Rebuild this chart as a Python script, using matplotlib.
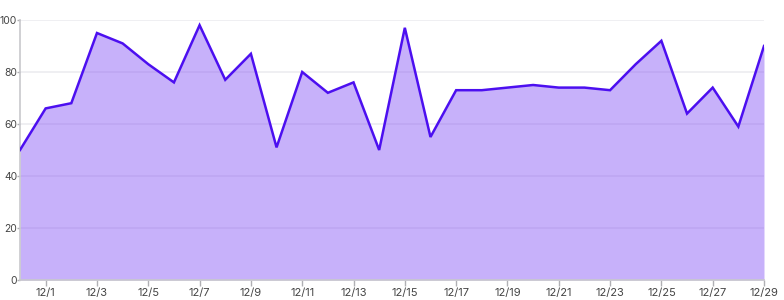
import matplotlib.pyplot as plt

plt.rcParams['font.family'] = ['Inter', 'DejaVu Sans']

days = list(range(0, 30))  # 0 = 11/30, 1 = 12/1 ... 29 = 12/29
values = [50, 66, 68, 95, 91, 83, 76, 98, 77, 87,
          51, 80, 72, 76, 50, 97, 55, 73, 73, 74,
          75, 74, 74, 73, 83, 92, 64, 74, 59, 90]
tick_days = list(range(1, 30, 2))
tick_labels = ["12/{}".format(d) for d in tick_days]
y_ticks = [0, 20, 40, 60, 80, 100]

fig = plt.figure(figsize=(7.84, 3.0), dpi=100)
ax = fig.add_axes([20 / 784, 20 / 300, 744 / 784, 260 / 300])

for y in y_ticks[1:]:
    ax.axhline(y, color='#ececf0', lw=1.2, zorder=0)

ax.fill_between(days, values, 0, color='#8b5cf6', alpha=0.48, lw=0, zorder=1)
ax.plot(days, values, color='#4c0ff0', lw=1.8, zorder=3, solid_joinstyle='miter')

ax.set_xlim(0, 29)
ax.set_ylim(0, 100)
ax.set_xticks(tick_days)
ax.set_xticklabels(tick_labels)
ax.set_yticks(y_ticks)

for side in ['top', 'right']:
    ax.spines[side].set_visible(False)
for side in ['left', 'bottom']:
    ax.spines[side].set_color('#c8c8cc')
    ax.spines[side].set_linewidth(1.2)

ax.tick_params(axis='both', colors='#b0b0b4', labelcolor='#444444', width=1)
ax.tick_params(axis='x', pad=2, length=4, labelsize=8)
ax.tick_params(axis='y', pad=0, length=2, labelsize=7.5)

fig.savefig('out.png', dpi=100)
